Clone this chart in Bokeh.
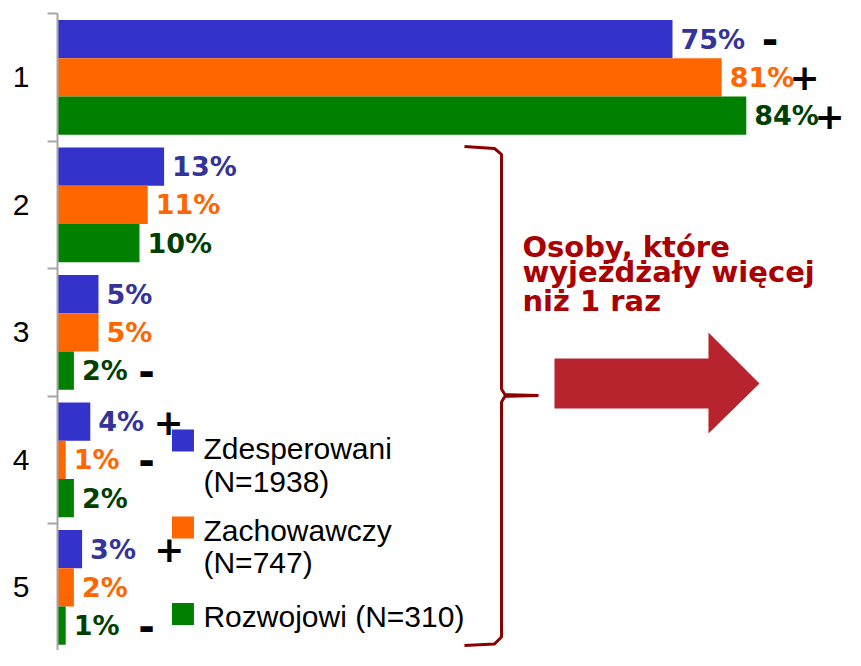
from bokeh.plotting import figure
from bokeh.models import ColumnDataSource, Range1d, FixedTicker
from bokeh.core.properties import value
from bokeh.embed import file_html
from bokeh.resources import INLINE

# ---------------- data ----------------
categories = [1, 2, 3, 4, 5]
cat_labels = ["1", "2", "3", "4", "5"]
series_names = ["Zdesperowani (N=1938)", "Zachowawczy (N=747)", "Rozwojowi (N=310)"]
zdesperowani = [75, 13, 5, 4, 3]
zachowawczy = [81, 11, 5, 1, 2]
rozwojowi = [84, 10, 2, 2, 1]
series_values = [zdesperowani, zachowawczy, rozwojowi]

# significance markers: category, series index, sign, x (in %)
sign_cat = [1, 1, 1, 3, 4, 4, 5, 5]
sign_series = [0, 1, 2, 2, 0, 1, 0, 2]
sign_text = ["-", "+", "+", "-", "+", "-", "+", "-"]
sign_x = [86.9, 91.1, 94.15, 10.85, 13.55, 10.85, 13.65, 10.85]

# annotation
ann_lines = ["Osoby, które", "wyjeżdżały więcej", "niż 1 raz"]
ann_x = 56.7
ann_y = [2.335, 2.524, 2.751]

arrow_xs = [60.61, 79.39, 79.39, 85.61, 79.39, 79.39, 60.61]
arrow_ys = [3.206, 3.206, 3.002, 3.402, 3.794, 3.598, 3.598]

brace_xs = [49.63, 53.29, 54.15, 54.15, 54.57, 58.66, 54.57, 54.15, 54.15, 53.29, 49.63]
brace_ys = [1.543, 1.559, 1.605, 3.445, 3.490, 3.496, 3.502, 3.547, 5.390, 5.445, 5.457]

# legend (drawn by hand)
legend_sq_x = 15.30
legend_sq_y = [3.849, 4.531, 5.210]
legend_lines = ["Zdesperowani", "(N=1938)", "Zachowawczy", "(N=747)", "Rozwojowi (N=310)"]
legend_text_x = 17.8
legend_text_y = [3.912, 4.167, 4.555, 4.802, 5.229]

# styles
bar_colors = ["#3333CC", "#FF6600", "#008000"]
label_colors = ["#333399", "#FF6600", "#003F00"]
offsets = [-0.3, 0.0, 0.3]
bar_h = 0.3

# ---------------- figure ----------------
p = figure(width=845, height=650, output_backend="svg", toolbar_location=None,
           x_range=Range1d(0, 96.1), y_range=Range1d(5.496, 0.5),
           x_axis_location=None, y_axis_location="left",
           min_border_left=57, min_border_top=13, min_border_right=0, min_border_bottom=0)
p.outline_line_color = None
p.xgrid.visible = False
p.ygrid.visible = False
p.background_fill_color = "white"
p.border_fill_color = "white"

ax = p.yaxis[0]
ax.ticker = FixedTicker(ticks=categories, minor_ticks=[c + 0.5 for c in [0] + categories[:-1]])
ax.major_label_overrides = {c: l for c, l in zip(categories, cat_labels)}
ax.major_tick_line_color = None
ax.major_tick_out = 0
ax.major_tick_in = 0
ax.minor_tick_line_color = "#A6A6A6"
ax.minor_tick_line_width = 2
ax.minor_tick_out = 10
ax.minor_tick_in = 0
ax.axis_line_color = "#A6A6A6"
ax.axis_line_width = 2
ax.major_label_text_font = "Liberation Sans"
ax.major_label_text_font_size = "30px"
ax.major_label_text_color = "black"
ax.major_label_standoff = 18

for i, vals in enumerate(series_values):
    ys = [c + offsets[i] for c in categories]
    src = ColumnDataSource(dict(y=ys, v=vals, lab=[f"{v}%" for v in vals]))
    p.hbar(y="y", left=0, right="v", height=bar_h, source=src,
           fill_color=bar_colors[i], line_color=None)
    p.text(x="v", y="y", text="lab", source=src, x_offset=8,
           text_font=value("DejaVu Sans"), text_font_style="bold",
           text_font_size="27px", text_color=label_colors[i],
           text_align="left", text_baseline="middle")

sign_src = ColumnDataSource(dict(
    x=sign_x,
    y=[c + offsets[s] for c, s in zip(sign_cat, sign_series)],
    t=sign_text,
    fs=["40px" if s == "-" else "36px" for s in sign_text],
))
p.text(x="x", y="y", text="t", source=sign_src,
       text_font=value("DejaVu Sans"), text_font_style="bold",
       text_font_size="fs", text_color="black",
       text_align="center", text_baseline="middle")

# brace
p.line(x=brace_xs, y=brace_ys, line_color="#8B0000", line_width=3)

# annotation text
p.text(x=[ann_x] * len(ann_lines), y=ann_y, text=ann_lines,
       text_font=value("DejaVu Sans"), text_font_style="bold",
       text_font_size="29px", text_color="#AA0000",
       text_align="left", text_baseline="middle")

# arrow
p.patch(x=arrow_xs, y=arrow_ys, fill_color="#B7242E", line_color=None)

# legend
p.scatter(x=[legend_sq_x] * 3, y=legend_sq_y, marker="square", size=22,
          fill_color=bar_colors, line_color=None)
p.text(x=[legend_text_x] * len(legend_lines), y=legend_text_y, text=legend_lines,
       text_font=value("Liberation Sans"), text_font_size="30px",
       text_color="black", text_align="left", text_baseline="middle")

open("out.html", "w").write(file_html(p, INLINE))
